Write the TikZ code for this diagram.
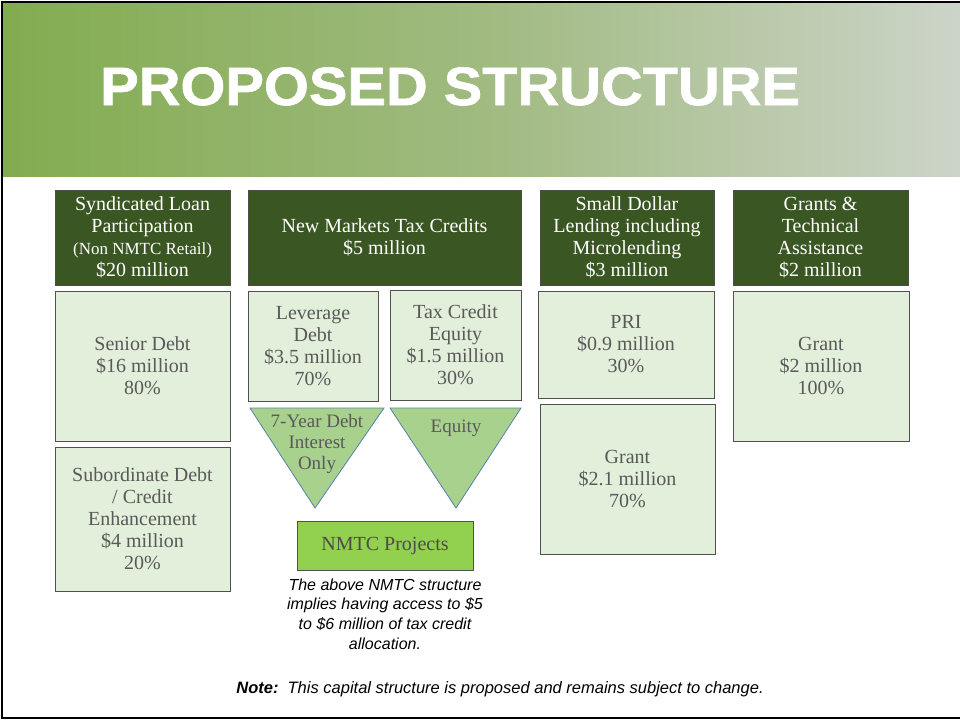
\documentclass[tikz,border=0pt]{standalone}
\usepackage{fontspec}
\setmainfont{Liberation Serif}
\newfontfamily\titlefont{Liberation Sans}[FakeStretch=1.07,FakeBold=1.2]
\newfontfamily\notefont{Liberation Sans}
\usetikzlibrary{shadows}
\definecolor{bandL}{RGB}{130,172,80}
\definecolor{bandM}{RGB}{160,186,128}
\definecolor{bandR}{RGB}{204,212,200}
\definecolor{darkgreen}{RGB}{58,86,34}
\definecolor{palegreen}{RGB}{226,239,218}
\definecolor{trigreen}{RGB}{169,209,142}
\definecolor{triedge}{RGB}{84,130,170}
\definecolor{projgreen}{RGB}{146,208,80}
\definecolor{boxtext}{RGB}{89,89,89}
\definecolor{boxedge}{RGB}{80,80,80}

\begin{document}
\begin{tikzpicture}[x=1pt,y=-1pt,
    head/.style={draw=black!70,fill=darkgreen,text=white,align=center,inner sep=0pt,
      drop shadow={shadow xshift=1.2pt,shadow yshift=-1.2pt,opacity=0.35},font=\fontsize{20}{22}\selectfont},
    cell/.style={draw=boxedge,fill=palegreen,text=boxtext,align=center,inner sep=0pt,
      drop shadow={shadow xshift=1.2pt,shadow yshift=-1.2pt,opacity=0.35},font=\fontsize{20}{22}\selectfont},
    tri/.style={draw=triedge,fill=trigreen,line width=0.8pt}]
  \useasboundingbox (0,0) rectangle (960,721);
  % title band
  \shade[left color=bandL,right color=bandR,middle color=bandM] (2,2) rectangle (960,176);
  \draw[line width=2pt] (960,2) -- (2,2) -- (2,718) -- (960,718);
  \node[anchor=base west,text=white,inner sep=0pt,font=\titlefont\bfseries\fontsize{54}{54}\selectfont] (title) at (100,105) {PROPOSED STRUCTURE};

  % column heads
  \node[head,minimum width=175,minimum height=95] (synd) at (142.5,237.5) {Syndicated Loan\\Participation\\{\fontsize{17}{21}\selectfont (Non NMTC Retail)}\\\$20 million};
  \node[head,minimum width=273,minimum height=95] (nmtc) at (384.5,237.5) {New Markets Tax Credits\\\$5 million};
  \node[head,minimum width=174,minimum height=95] (small) at (627,237.5) {Small Dollar\\Lending including\\Microlending\\\$3 million};
  \node[head,minimum width=175,minimum height=95] (grants) at (820.5,237.5) {Grants \&\\Technical\\Assistance\\\$2 million};

  % amounts
  \node[cell,minimum width=175,minimum height=150] (senior) at (142.5,366) {Senior Debt\\\$16 million\\80\%};
  \node[cell,minimum width=175,minimum height=144] (subdebt) at (142.5,519) {Subordinate Debt\\/ Credit\\Enhancement\\\$4 million\\20\%};
  \node[cell,minimum width=130,minimum height=110] (leverage) at (313,346) {Leverage\\Debt\\\$3.5 million\\70\%};
  \node[cell,minimum width=131,minimum height=110] (taxequity) at (455.5,345) {Tax Credit\\Equity\\\$1.5 million\\30\%};
  \node[cell,minimum width=176,minimum height=107] (pri) at (626,344.5) {PRI\\\$0.9 million\\30\%};
  \node[cell,minimum width=175,minimum height=150] (smallgrant) at (627.5,479) {Grant\\\$2.1 million\\70\%};
  \node[cell,minimum width=176,minimum height=150] (grant) at (821,366) {Grant\\\$2 million\\100\%};

  % flows
  \draw[tri] (250,408) -- (384,408) -- (315,508) -- cycle;
  \draw[tri] (390,408) -- (521,408) -- (456,508) -- cycle;
  \node[text=boxtext,align=center,font=\fontsize{19}{21}\selectfont] (debtterms) at (317,444) {7-Year Debt\\Interest\\Only};
  \node[text=boxtext,font=\fontsize{19}{21}\selectfont] (equityterms) at (456,428) {Equity};
  \node[draw=boxedge,fill=projgreen,text=black!70,minimum width=176,minimum height=49,font=\fontsize{20}{22}\selectfont] (projects) at (385,545.5) {NMTC Projects};

  \node[align=center,font=\notefont\itshape\fontsize{16}{19.6}\selectfont] (caveat) at (385,614) {The above NMTC structure\\implies having access to \$5\\to \$6 million of tax credit\\allocation.};
  \node[font=\notefont\itshape\fontsize{16.5}{20}\selectfont] (note) at (500,689) {\textbf{Note:}\ \ This capital structure is proposed and remains subject to change.};
\end{tikzpicture}
\end{document}
